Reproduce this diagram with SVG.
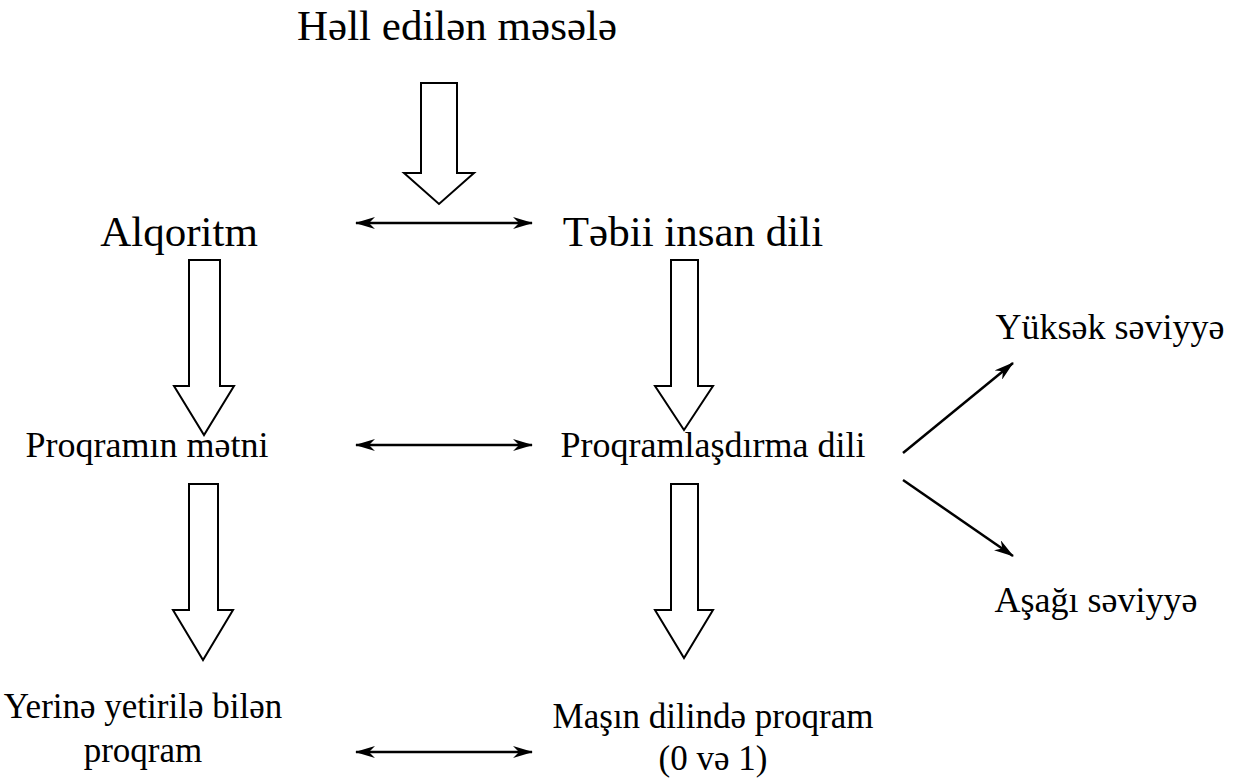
<svg xmlns="http://www.w3.org/2000/svg" width="1237" height="779" viewBox="0 0 1237 779">
  <style>
    .block { fill: #fff; stroke: #000; stroke-width: 2; stroke-linejoin: miter; }
    .line { fill: none; stroke: #000; stroke-width: 2.5; }
  </style>
  <defs>
    <marker id="head" viewBox="0 0 20 12" refX="19" refY="6" markerWidth="20" markerHeight="12" markerUnits="userSpaceOnUse" orient="auto-start-reverse">
      <path d="M0,0 L20,6 L0,12 L6,6 Z" fill="#000"/>
    </marker>
  </defs>

  <!-- labels: set at 20px and scaled into place -->
  <g id="n-problem"><text transform="translate(457,40) scale(2.15)" font-family="Liberation Serif" font-size="20" text-anchor="middle">Həll edilən məsələ</text></g>
  <g id="n-algorithm"><text transform="translate(179,246) scale(2.15)" font-family="Liberation Serif" font-size="20" text-anchor="middle">Alqoritm</text></g>
  <g id="n-natural"><text transform="translate(693,246) scale(2.15)" font-family="Liberation Serif" font-size="20" text-anchor="middle">Təbii insan dili</text></g>
  <g id="n-text"><text transform="translate(147,457) scale(1.8)" font-family="Liberation Serif" font-size="20" text-anchor="middle">Proqramın mətni</text></g>
  <g id="n-proglang"><text transform="translate(713,457) scale(1.8)" font-family="Liberation Serif" font-size="20" text-anchor="middle">Proqramlaşdırma dili</text></g>
  <g id="n-high"><text transform="translate(1110,339) scale(1.8)" font-family="Liberation Serif" font-size="20" text-anchor="middle">Yüksək səviyyə</text></g>
  <g id="n-low"><text transform="translate(1096,612) scale(1.8)" font-family="Liberation Serif" font-size="20" text-anchor="middle">Aşağı səviyyə</text></g>
  <g id="n-exec">
    <text transform="translate(143,718) scale(1.75)" font-family="Liberation Serif" font-size="20" text-anchor="middle">Yerinə yetirilə bilən</text>
    <text transform="translate(143,762) scale(1.75)" font-family="Liberation Serif" font-size="20" text-anchor="middle">proqram</text>
  </g>
  <g id="n-machine">
    <text transform="translate(713,728) scale(1.75)" font-family="Liberation Serif" font-size="20" text-anchor="middle">Maşın dilində proqram</text>
    <text transform="translate(713,770) scale(1.75)" font-family="Liberation Serif" font-size="20" text-anchor="middle">(0 və 1)</text>
  </g>

  <g id="connectors">
    <!-- hollow block arrows -->
    <path class="block" d="M421,83 H457 V173 H474 L439,204 L404,173 H421 Z"/>
    <path class="block" d="M189,260 H220 V386 H234 L204,435 L174,386 H189 Z"/>
    <path class="block" d="M671,260 H698 V386 H713 L684,430 L655,386 H671 Z"/>
    <path class="block" d="M189,484 H218 V610 H233 L203,660 L173,610 H189 Z"/>
    <path class="block" d="M671,484 H698 V610 H713 L684,658 L655,610 H671 Z"/>
    <!-- two-way links -->
    <line class="line" x1="356" y1="223" x2="532" y2="223" marker-start="url(#head)" marker-end="url(#head)"/>
    <line class="line" x1="356" y1="445" x2="532" y2="445" marker-start="url(#head)" marker-end="url(#head)"/>
    <line class="line" x1="356" y1="752" x2="532" y2="752" marker-start="url(#head)" marker-end="url(#head)"/>
    <!-- branches to language levels -->
    <line class="line" x1="903" y1="453" x2="1013" y2="363" marker-end="url(#head)"/>
    <line class="line" x1="903" y1="480" x2="1013" y2="556" marker-end="url(#head)"/>
  </g>
</svg>
